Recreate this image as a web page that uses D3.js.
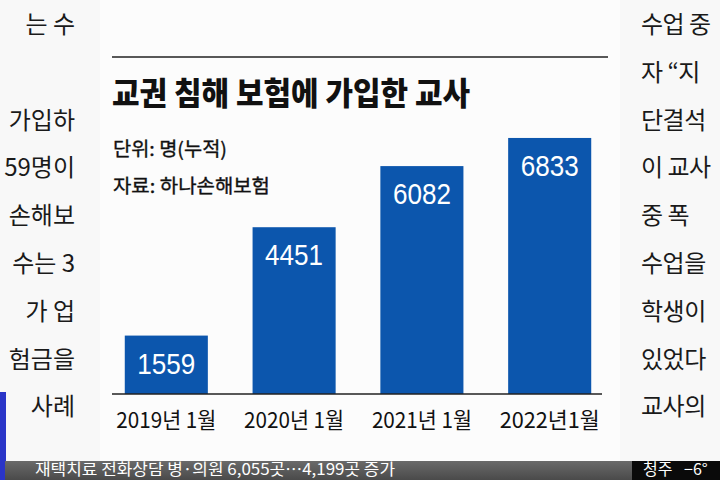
<!DOCTYPE html>
<html>
<head>
<meta charset="utf-8">
<script src="https://cdn.jsdelivr.net/npm/d3@7"></script>
<style>
  html, body { margin: 0; padding: 0; background: #f9f9f9; }
  svg { display: block; }
</style>
</head>
<body>
<svg id="chart" width="720" height="480"></svg>
<script>
// ---- data ----
const categories = ["2019년 1월", "2020년 1월", "2021년 1월", "2022년1월"];
const values = [1559, 4451, 6082, 6833];
const title = "교권 침해 보험에 가입한 교사";
const unitNote = "단위: 명(누적)";
const sourceNote = "자료: 하나손해보험";
const leftColumn = ["는 수", "", "가입하", "59명이", "손해보", "수는 3", "가 업", "험금을", "사례"];
const rightColumn = ["수업 중", "자 “지", "단결석", "이 교사", "중 폭", "수업을", "학생이", "있었다", "교사의"];
const tickerText = "재택치료 전화상담 병·의원 6,055곳…4,199곳 증가";
const weatherCity = "청주";
const weatherTemp = "−6°";

const KR = "'Noto Sans CJK KR', 'Noto Sans', sans-serif";
const svg = d3.select("#chart");

// background
svg.append("rect").attr("width", 720).attr("height", 480).attr("fill", "#f8f8f8");
svg.append("rect").attr("x", 100).attr("y", 0).attr("width", 520).attr("height", 462).attr("fill", "#fcfcfc");

// scales
const x = d3.scaleBand().domain(categories).range([112, 604]).paddingInner(0.35).paddingOuter(0.1);
const y = d3.scaleLinear().domain([0, 7000]).range([394, 131.7]);

// top rule
svg.append("line").attr("x1", 112).attr("x2", 608).attr("y1", 57).attr("y2", 57)
  .attr("stroke", "#222").attr("stroke-width", 1.5);

// title
svg.append("text").attr("x", 112).attr("y", 105)
  .attr("font-family", KR).attr("font-weight", 900).attr("font-size", 32)
  .attr("fill", "#111").attr("textLength", 358).attr("lengthAdjust", "spacingAndGlyphs")
  .text(title);

[[unitNote, 156, 114], [sourceNote, 193, 157]].forEach(([t, yy, len]) => {
  svg.append("text").attr("x", 113).attr("y", yy)
    .attr("font-family", KR).attr("font-weight", 400).attr("font-size", 19)
    .attr("fill", "#111").attr("stroke", "#111").attr("stroke-width", 0.35)
    .attr("textLength", len).attr("lengthAdjust", "spacingAndGlyphs")
    .text(t);
});

// bars
const data = categories.map((c, i) => ({ c, v: values[i] }));
svg.append("g").selectAll("rect").data(data).join("rect")
  .attr("x", d => x(d.c)).attr("width", x.bandwidth())
  .attr("y", d => y(d.v)).attr("height", d => y(0) - y(d.v))
  .attr("fill", "#0c56ad");

// value labels
svg.append("g").selectAll("text").data(data).join("text")
  .attr("x", d => x(d.c) + x.bandwidth() / 2)
  .attr("y", d => y(d.v) + 38)
  .attr("text-anchor", "middle")
  .attr("font-family", "'Liberation Sans', Arial, sans-serif")
  .attr("font-size", 30).attr("fill", "#ffffff")
  .attr("textLength", 58).attr("lengthAdjust", "spacingAndGlyphs")
  .text(d => d.v);

// baseline axis
const xAxis = d3.axisBottom(x).tickSize(0).tickPadding(0);
const axisG = svg.append("g").attr("transform", `translate(0,${y(0)})`).call(xAxis);
axisG.select(".domain").attr("stroke", "#222").attr("stroke-width", 1.5)
  .attr("d", "M112,0H602");
axisG.selectAll(".tick text")
  .attr("y", 34).attr("dy", 0)
  .attr("font-family", KR).attr("font-weight", 400).attr("font-size", 22).attr("fill", "#111")
  .attr("textLength", 100).attr("lengthAdjust", "spacingAndGlyphs");

// surrounding newspaper columns
const lineY = i => 33 + i * 47.8;
svg.append("g").selectAll("text").data(leftColumn).join("text")
  .attr("x", 75).attr("y", (d, i) => lineY(i)).attr("text-anchor", "end")
  .attr("font-family", KR).attr("font-weight", 400).attr("font-size", 24).attr("fill", "#1a1a1a")
  .text(d => d);
svg.append("g").selectAll("text").data(rightColumn).join("text")
  .attr("x", 641).attr("y", (d, i) => lineY(i))
  .attr("font-family", KR).attr("font-weight", 400).attr("font-size", 24).attr("fill", "#1a1a1a")
  .attr("letter-spacing", -0.5)
  .text(d => d);

// blue strip at left edge
svg.append("rect").attr("x", 0).attr("y", 392).attr("width", 6).attr("height", 70).attr("fill", "#2a35c8");

// ticker bar
const grad = svg.append("defs").append("linearGradient").attr("id", "tick").attr("x1", 0).attr("x2", 0).attr("y1", 0).attr("y2", 1);
grad.append("stop").attr("offset", 0).attr("stop-color", "#6a6a6a");
grad.append("stop").attr("offset", 1).attr("stop-color", "#4a4a4a");
svg.append("rect").attr("x", 0).attr("y", 461).attr("width", 720).attr("height", 19).attr("fill", "url(#tick)");
svg.append("rect").attr("x", 0).attr("y", 461).attr("width", 5).attr("height", 19).attr("fill", "#2a35c8");
svg.append("text").attr("x", 35).attr("y", 475)
  .attr("font-family", KR).attr("font-size", 16).attr("fill", "#ffffff")
  .attr("textLength", 360).attr("lengthAdjust", "spacingAndGlyphs")
  .text(tickerText);
svg.append("rect").attr("x", 632).attr("y", 461).attr("width", 88).attr("height", 19).attr("fill", "#0a0a0a");
svg.append("text").attr("x", 643).attr("y", 475)
  .attr("font-family", KR).attr("font-size", 16).attr("fill", "#ffffff").text(weatherCity);
svg.append("text").attr("x", 684).attr("y", 475)
  .attr("font-family", KR).attr("font-size", 16).attr("fill", "#ffffff").text(weatherTemp);
</script>
</body>
</html>
